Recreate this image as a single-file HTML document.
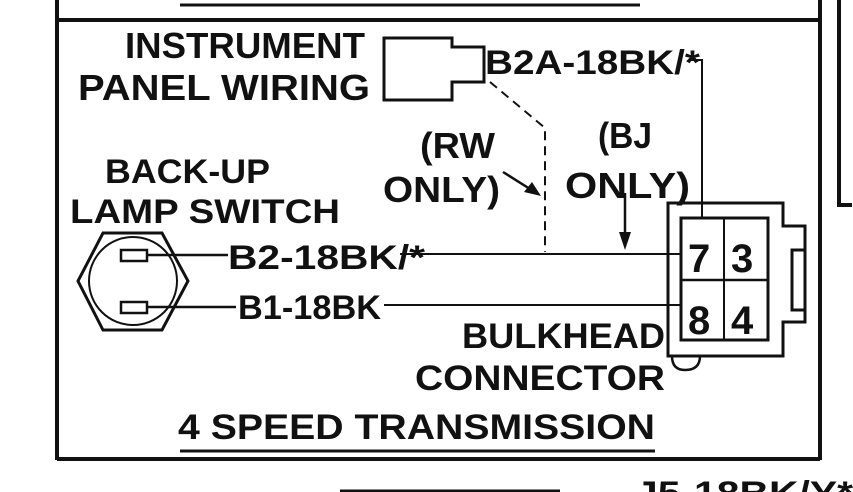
<!DOCTYPE html>
<html><head><meta charset="utf-8"><style>
html,body{margin:0;padding:0;background:#fff;}
svg{display:block;}
text{font-family:"Liberation Sans",sans-serif;font-weight:bold;fill:#111;}
</style></head><body>
<svg width="853" height="492" viewBox="0 0 853 492" xmlns="http://www.w3.org/2000/svg">
<g stroke="#111" fill="none">
<line x1="180" y1="5" x2="640" y2="5" stroke-width="3"/>
<line x1="57" y1="0" x2="57" y2="460" stroke-width="4"/>
<line x1="820" y1="0" x2="820" y2="460" stroke-width="4"/>
<line x1="57" y1="20" x2="820" y2="20" stroke-width="4"/>
<line x1="57" y1="459" x2="820" y2="459" stroke-width="4"/>
<path d="M852 205 L839 205 L839 0" stroke-width="4"/>
<path d="M384 38 L452 38 L452 47 L484 47 L484 82 L452 82 L452 100 L384 100 Z" stroke-width="3"/>
<path d="M690 60 L702 60 L702 218" stroke-width="2"/>
<path d="M490 82 L545 128 L545 252" stroke-width="2" stroke-dasharray="9,6"/>
<line x1="503" y1="172" x2="530" y2="189" stroke-width="2.5"/>
<line x1="625" y1="193" x2="625" y2="236" stroke-width="2.5"/>
<path d="M103 233 L162 233 L188 281 L162 330 L103 330 L78 281 Z" stroke-width="3"/>
<circle cx="133" cy="281" r="44" stroke-width="2"/>
<rect x="121" y="250" width="26" height="11" stroke-width="2.5"/>
<rect x="121" y="302" width="26" height="11" stroke-width="2.5"/>
<line x1="147" y1="255" x2="228" y2="255" stroke-width="2.5"/>
<line x1="147" y1="307" x2="236" y2="307" stroke-width="2.5"/>
<line x1="400" y1="254" x2="681" y2="254" stroke-width="2"/>
<line x1="384" y1="305" x2="681" y2="305" stroke-width="2"/>
<path d="M668 203 L783 203 L783 226 L805 226 L805 322 L783 322 L783 356 L668 356 Z" stroke-width="3"/>
<path d="M805 250 L792 250 L792 310 L805 310" stroke-width="3"/>
<rect x="681" y="218" width="87" height="122" stroke-width="3"/>
<line x1="724" y1="218" x2="724" y2="340" stroke-width="2"/>
<line x1="681" y1="280" x2="768" y2="280" stroke-width="2.5"/>
<path d="M672 356 Q672 370 685 370 Q700 370 700 356" stroke-width="2.5"/>
<line x1="180" y1="451" x2="655" y2="451" stroke-width="3"/>
<line x1="340" y1="491" x2="560" y2="491" stroke-width="3"/>
</g>
<g fill="#111">
<polygon points="541,196 524,192 532,182"/>
<polygon points="625,250 619,232 631,232"/>
</g>
<text x="125" y="58" font-size="36" textLength="240" lengthAdjust="spacingAndGlyphs">INSTRUMENT</text>
<text x="78" y="100" font-size="36" textLength="292" lengthAdjust="spacingAndGlyphs">PANEL WIRING</text>
<text x="485" y="74" font-size="34" textLength="215" lengthAdjust="spacingAndGlyphs">B2A-18BK/*</text>
<text x="420" y="158" font-size="36" textLength="75" lengthAdjust="spacingAndGlyphs">(RW</text>
<text x="383" y="202" font-size="36" textLength="117" lengthAdjust="spacingAndGlyphs">ONLY)</text>
<text x="598" y="148" font-size="36" textLength="54" lengthAdjust="spacingAndGlyphs">(BJ</text>
<text x="565" y="198" font-size="36" textLength="125" lengthAdjust="spacingAndGlyphs">ONLY)</text>
<text x="105" y="183" font-size="34" textLength="165" lengthAdjust="spacingAndGlyphs">BACK-UP</text>
<text x="70" y="223" font-size="34" textLength="270" lengthAdjust="spacingAndGlyphs">LAMP SWITCH</text>
<text x="228" y="269" font-size="34" textLength="197" lengthAdjust="spacingAndGlyphs">B2-18BK/*</text>
<text x="238" y="319" font-size="34" textLength="143" lengthAdjust="spacingAndGlyphs">B1-18BK</text>
<text x="462" y="348" font-size="35" textLength="203" lengthAdjust="spacingAndGlyphs">BULKHEAD</text>
<text x="415" y="390" font-size="35" textLength="250" lengthAdjust="spacingAndGlyphs">CONNECTOR</text>
<text x="178" y="439" font-size="35" textLength="477" lengthAdjust="spacingAndGlyphs">4 SPEED TRANSMISSION</text>
<text x="688" y="272" font-size="40">7</text>
<text x="731" y="272" font-size="40">3</text>
<text x="688" y="334" font-size="40">8</text>
<text x="731" y="334" font-size="40">4</text>
<text x="635" y="505" font-size="34" textLength="218" lengthAdjust="spacingAndGlyphs">J5-18BK/Y*</text>
</svg>
</body></html>
